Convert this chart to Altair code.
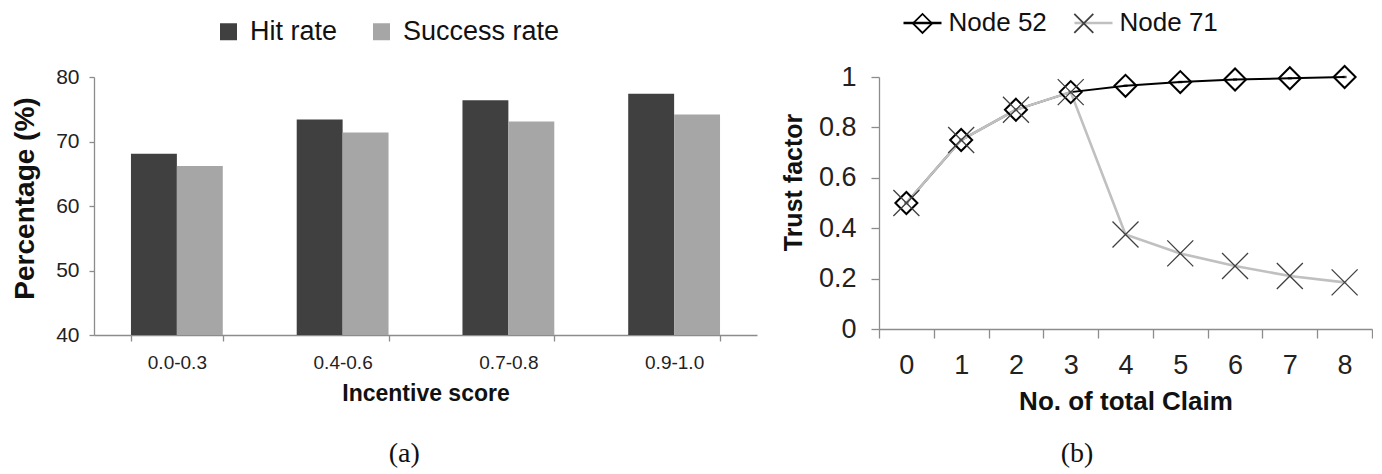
import altair as alt
import pandas as pd

# ---- (a) bar chart data ----
categories = ["0.0-0.3", "0.4-0.6", "0.7-0.8", "0.9-1.0"]
bar_series = ["Hit rate", "Success rate"]
hit_rate = [68.1, 73.4, 76.4, 77.4]
success_rate = [66.2, 71.4, 73.1, 74.2]
bar_colors = ["#404040", "#a6a6a6"]
pct_ticks = [40, 50, 60, 70, 80]

# ---- (b) line chart data ----
claims = [0, 1, 2, 3, 4, 5, 6, 7, 8]
line_series = ["Node 52", "Node 71"]
node52 = [0.5, 0.75, 0.87, 0.94, 0.965, 0.98, 0.99, 0.995, 1.0]
node71 = [0.5, 0.75, 0.87, 0.94, 0.375, 0.30, 0.25, 0.21, 0.185]
trust_ticks = [0, 0.2, 0.4, 0.6, 0.8, 1]
line_colors = ["#000000", "#c0c0c0"]
marker_colors = ["#000000", "#404040"]

FONT = "Liberation Sans"
XPATH = "M-1,-1L1,1M-1,1L1,-1"
LINEPATH = "M-2,0L2,0"

bars_df = pd.DataFrame({
    "Incentive": categories * 2,
    "Rate": [bar_series[0]] * len(categories) + [bar_series[1]] * len(categories),
    "Value": hit_rate + success_rate,
})

bars = alt.Chart(
    bars_df,
    title=alt.TitleParams("(a)", orient="bottom", frame="bounds", font="Liberation Serif",
                          fontSize=28, fontWeight="normal", color="#111", offset=35, dx=20),
).mark_bar(clip=True).encode(
    x=alt.X("Incentive:N", sort=categories,
            scale=alt.Scale(paddingInner=0.446, paddingOuter=0.223),
            axis=alt.Axis(title="Incentive score", labelAngle=0, tickBand="extent",
                          tickSize=6, labelPadding=12, labelFontSize=19,
                          titleFontSize=23, titlePadding=10)),
    xOffset=alt.XOffset("Rate:N", sort=bar_series),
    y=alt.Y("Value:Q", scale=alt.Scale(domain=[40, 80], zero=False, nice=False),
            axis=alt.Axis(title="Percentage (%)", values=pct_ticks, tickSize=5,
                          labelPadding=10, labelFontSize=21, titleFontSize=28,
                          titlePadding=16, titleY=121)),
    color=alt.Color("Rate:N", sort=bar_series,
                    scale=alt.Scale(domain=bar_series, range=bar_colors),
                    legend=alt.Legend(title=None, orient="none", direction="horizontal",
                                      legendX=121, legendY=-59, symbolType="square",
                                      symbolSize=289, labelFontSize=27, labelOffset=8,
                                      columnPadding=30, symbolStrokeWidth=0)),
).properties(width=663, height=258)

line_df = pd.DataFrame({
    "Claim": claims * 2,
    "Series": [line_series[0]] * len(claims) + [line_series[1]] * len(claims),
    "Trust": node52 + node71,
})
line_df["LineKey"] = line_df["Series"]
line_df["MarkerKey"] = line_df["Series"]

xenc = alt.X("Claim:O", bandPosition=0.5,
             scale=alt.Scale(type="band", paddingInner=0, paddingOuter=0),
             axis=alt.Axis(title="No. of total Claim", labelAngle=0, tickBand="extent",
                           tickSize=9, labelPadding=14, labelFontSize=27,
                           titleFontSize=26, titlePadding=10))
yenc = alt.Y("Trust:Q", scale=alt.Scale(domain=[0, 1], nice=False),
             axis=alt.Axis(title="Trust factor", values=trust_ticks, format="~g",
                           tickSize=8, labelPadding=15, labelFontSize=27,
                           titleFontSize=25, titlePadding=12, titleY=105))

line_legend = dict(title=None, orient="none", direction="horizontal",
                   legendX=30.5, legendY=-67, symbolSize=361, labelFontSize=26,
                   labelOffset=13, columnPadding=22, symbolOpacity=1, symbolStrokeWidth=2.4)
# marker legend: same place, no labels; column padding = label offset + label width + padding
marker_legend = dict(title=None, orient="none", direction="horizontal",
                     legendX=30.5, legendY=-67, symbolSize=361, labelFontSize=26,
                     labelExpr="''", labelOffset=0, columnPadding=133.3,
                     symbolOpacity=1, symbolStrokeWidth=1.8)

base = alt.Chart(line_df)
line52 = base.transform_filter("datum.Series == 'Node 52'").mark_line(
    strokeWidth=2, color=line_colors[0]).encode(x=xenc, y=yenc)
line71 = base.transform_filter("datum.Series == 'Node 71'").mark_line(
    strokeWidth=2.6, color=line_colors[1]).encode(x=xenc, y=yenc)

# tiny dashes in the line colour sitting on the lines; they carry the line part of the legend
legend_lines = base.mark_point(filled=False, size=4, strokeWidth=2.4).encode(
    x=xenc, y=yenc,
    color=alt.Color("LineKey:N", scale=alt.Scale(domain=line_series, range=line_colors),
                    legend=alt.Legend(**line_legend)),
    shape=alt.Shape("LineKey:N", scale=alt.Scale(domain=line_series, range=[LINEPATH, LINEPATH]),
                    legend=alt.Legend(**line_legend)),
)

pts = base.mark_point(filled=False, opacity=1).encode(
    x=xenc, y=yenc,
    color=alt.Color("MarkerKey:N", scale=alt.Scale(domain=line_series, range=marker_colors),
                    legend=alt.Legend(**marker_legend)),
    shape=alt.Shape("MarkerKey:N", scale=alt.Scale(domain=line_series, range=["diamond", XPATH]),
                    legend=alt.Legend(**marker_legend)),
    size=alt.condition("datum.Series == 'Node 52'", alt.value(484), alt.value(676)),
    strokeWidth=alt.condition("datum.Series == 'Node 52'", alt.value(2), alt.value(1.3)),
)

lines = alt.layer(line52, line71, legend_lines, pts,
                  title=alt.TitleParams("(b)", orient="bottom", frame="bounds",
                                        font="Liberation Serif", fontSize=28,
                                        fontWeight="normal", color="#111", offset=26)
                  ).resolve_scale(color="independent", shape="independent"
                  ).properties(width=493, height=252)

chart = alt.hconcat(bars, lines, spacing=122, bounds="flush").resolve_scale(
    color="independent", shape="independent"
).properties(
    padding={"left": 3, "top": 2, "right": 0, "bottom": 0}
).configure(font=FONT).configure_view(stroke=None).configure_axis(
    grid=False, domainColor="#8c8c8c", tickColor="#8c8c8c", domainWidth=1.3, tickWidth=1.3,
    labelColor="#222222", titleColor="#111111", labelFont=FONT, titleFont=FONT,
    titleFontWeight="bold"
).configure_legend(labelFont=FONT, labelColor="#111111", padding=0)

chart.save("out.html", embed_options={"renderer": "svg", "actions": False})
